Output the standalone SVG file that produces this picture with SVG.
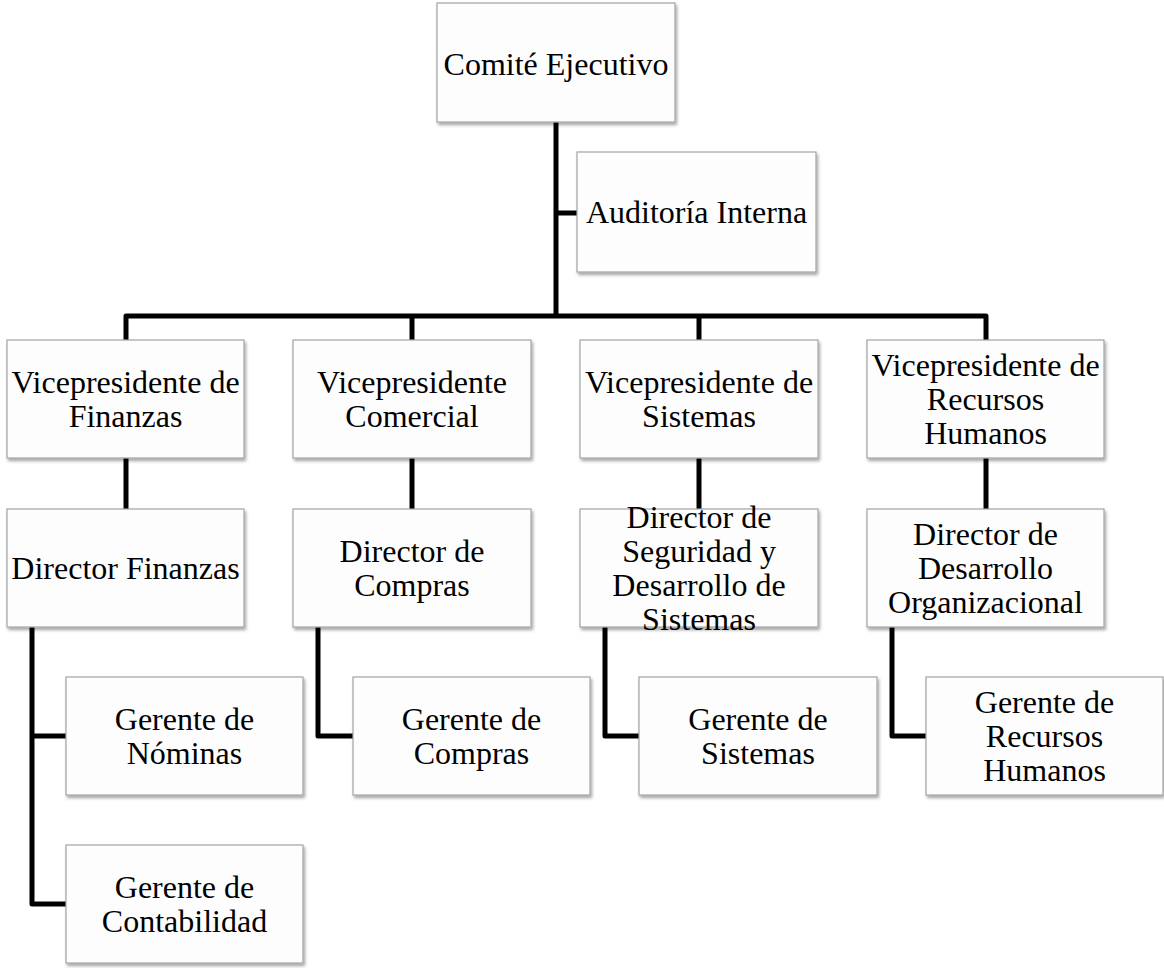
<svg xmlns="http://www.w3.org/2000/svg" width="1164" height="968" viewBox="0 0 1164 968">
<style>
.box{fill:#fdfdfd;stroke:#a3a3a3;stroke-width:1.2;filter:url(#sh)}
.t{font-family:"Liberation Serif","Times New Roman",serif;font-size:32px;fill:#000;text-anchor:middle}
.c{fill:none;stroke:#000;stroke-width:5;stroke-linejoin:round;stroke-linecap:butt}
</style>
<defs>
<filter id="sh" x="-10%" y="-10%" width="125%" height="130%">
<feDropShadow dx="1.5" dy="2.5" stdDeviation="1.5" flood-color="#000" flood-opacity="0.35"/>
</filter>
</defs>
<rect width="1164" height="968" fill="#fff"/>
<g id="connectors">
<path class="c" d="M556 122V316"/>
<path class="c" d="M556 213H577"/>
<path class="c" d="M126 340V316H986V340"/>
<path class="c" d="M412 316V340"/>
<path class="c" d="M699 316V340"/>
<path class="c" d="M126 458V509"/>
<path class="c" d="M412 458V509"/>
<path class="c" d="M699 458V509"/>
<path class="c" d="M986 458V509"/>
<path class="c" d="M32 627V904H66"/>
<path class="c" d="M32 736H66"/>
<path class="c" d="M318 627V736H353"/>
<path class="c" d="M605 627V736H639"/>
<path class="c" d="M892 627V736H926"/>
</g>
<g id="comite"><rect class="box" x="437" y="3" width="238" height="119"/><text class="t" x="556" y="75">Comité Ejecutivo</text></g>
<g id="auditoria"><rect class="box" x="577" y="152" width="239" height="120"/><text class="t" x="696.5" y="223">Auditoría Interna</text></g>
<g id="vp-finanzas"><rect class="box" x="7" y="340" width="237" height="118"/><text class="t" x="125.5" y="393">Vicepresidente de</text><text class="t" x="125.5" y="427">Finanzas</text></g>
<g id="vp-comercial"><rect class="box" x="293" y="340" width="238" height="118"/><text class="t" x="412" y="393">Vicepresidente</text><text class="t" x="412" y="427">Comercial</text></g>
<g id="vp-sistemas"><rect class="box" x="580" y="340" width="238" height="118"/><text class="t" x="699" y="393">Vicepresidente de</text><text class="t" x="699" y="427">Sistemas</text></g>
<g id="vp-rrhh"><rect class="box" x="867" y="340" width="237" height="118"/><text class="t" x="985.5" y="376">Vicepresidente de</text><text class="t" x="985.5" y="410">Recursos</text><text class="t" x="985.5" y="444">Humanos</text></g>
<g id="dir-finanzas"><rect class="box" x="7" y="509" width="237" height="118"/><text class="t" x="125.5" y="579">Director Finanzas</text></g>
<g id="dir-compras"><rect class="box" x="293" y="509" width="238" height="118"/><text class="t" x="412" y="562">Director de</text><text class="t" x="412" y="596">Compras</text></g>
<g id="dir-seguridad"><rect class="box" x="580" y="509" width="238" height="118"/><text class="t" x="699" y="528">Director de</text><text class="t" x="699" y="562">Seguridad y</text><text class="t" x="699" y="596">Desarrollo de</text><text class="t" x="699" y="630">Sistemas</text></g>
<g id="dir-desarrollo"><rect class="box" x="867" y="509" width="237" height="118"/><text class="t" x="985.5" y="545">Director de</text><text class="t" x="985.5" y="579">Desarrollo</text><text class="t" x="985.5" y="613">Organizacional</text></g>
<g id="ger-nominas"><rect class="box" x="66" y="677" width="237" height="118"/><text class="t" x="184.5" y="730">Gerente de</text><text class="t" x="184.5" y="764">Nóminas</text></g>
<g id="ger-contabilidad"><rect class="box" x="66" y="845" width="237" height="118"/><text class="t" x="184.5" y="898">Gerente de</text><text class="t" x="184.5" y="932">Contabilidad</text></g>
<g id="ger-compras"><rect class="box" x="353" y="677" width="237" height="118"/><text class="t" x="471.5" y="730">Gerente de</text><text class="t" x="471.5" y="764">Compras</text></g>
<g id="ger-sistemas"><rect class="box" x="639" y="677" width="238" height="118"/><text class="t" x="758" y="730">Gerente de</text><text class="t" x="758" y="764">Sistemas</text></g>
<g id="ger-rrhh"><rect class="box" x="926" y="677" width="237" height="118"/><text class="t" x="1044.5" y="713">Gerente de</text><text class="t" x="1044.5" y="747">Recursos</text><text class="t" x="1044.5" y="781">Humanos</text></g>
</svg>
